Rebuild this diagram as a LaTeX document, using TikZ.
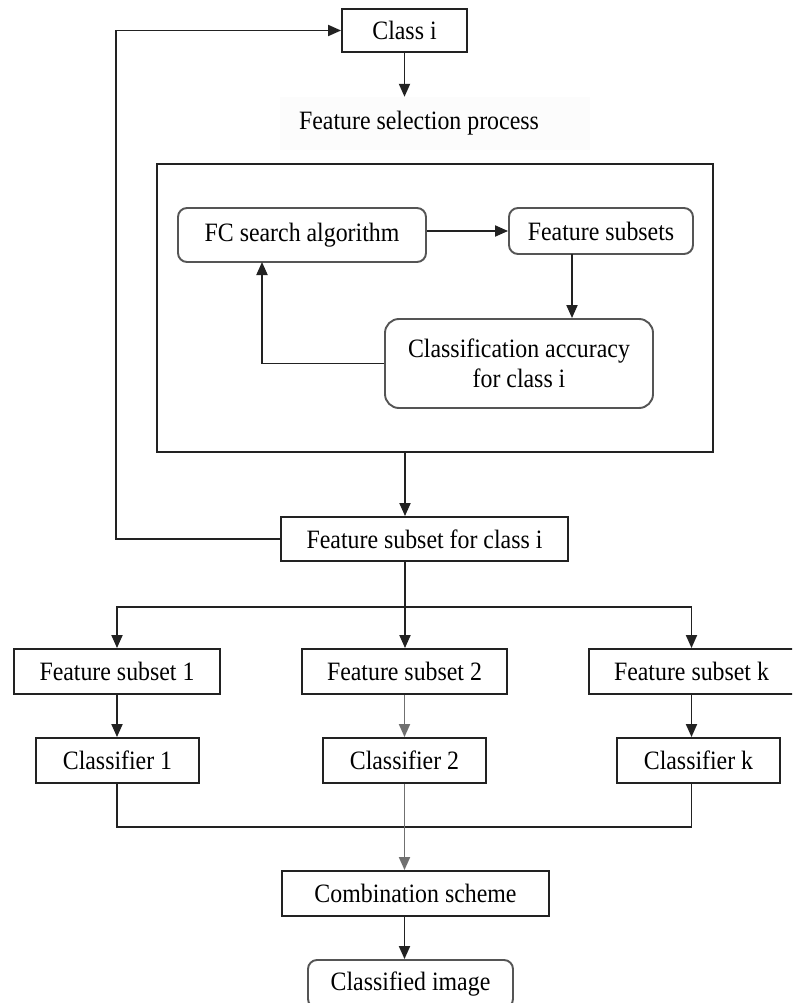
\documentclass[tikz,border=0pt]{standalone}
\usepackage{fontspec}
\setmainfont{Liberation Serif}[FakeStretch=0.9]
\usetikzlibrary{arrows.meta}
\definecolor{ln}{HTML}{222222}
\definecolor{rb}{HTML}{555555}
\definecolor{gl}{HTML}{707070}
\tikzset{
  x=1pt, y=-1pt,
  txt/.style={font=\fontsize{26.5pt}{30pt}\selectfont, text=black},
  sqbox/.style={txt, draw=ln, line width=1.9pt, fill=white, inner sep=0pt, rectangle},
  rdbox/.style={txt, draw=rb, line width=1.9pt, fill=white, inner sep=0pt, rectangle, rounded corners=9pt},
  arr/.style={draw=ln, line width=1.9pt, -{Triangle[length=13pt,width=11pt]}},
  ln/.style={draw=ln, line width=1.9pt},
}
\begin{document}
\begin{tikzpicture}
\useasboundingbox (0,0) rectangle (792,1003);
\fill[white] (0,0) rectangle (792,1003);
\clip (0,0) rectangle (792,1003);

% top
\node[sqbox, minimum width=125pt, minimum height=43pt] (classi) at (404.5,30.5) {Class i};
\node[fill=black!1, minimum width=310pt, minimum height=53pt, inner sep=0pt] (fspbg) at (435,123.5) {};
\node[txt] (fsp) at (419,123) {Feature selection process};

% outer frame
\node[draw=ln, line width=1.9pt, minimum width=556pt, minimum height=288pt, inner sep=0pt, fill=white] (outer) at (435,308) {};

\node[rdbox, minimum width=248pt, minimum height=54pt] (fc) at (302,235) {FC search algorithm};
\node[rdbox, minimum width=184pt, minimum height=46pt] (fs) at (601,231) {Feature subsets};
\node[rdbox, rounded corners=14pt, minimum width=268pt, minimum height=89pt, align=center] (ca) at (519,363.5) {Classification accuracy\\for class i};

\node[sqbox, minimum width=287pt, minimum height=44pt] (fsci) at (424.5,539) {Feature subset for class i};

\node[sqbox, minimum width=206pt, minimum height=45pt] (fs1) at (117,671.5) {Feature subset 1};
\node[sqbox, minimum width=205pt, minimum height=45pt] (fs2) at (404.5,671.5) {Feature subset 2};
\node[sqbox, minimum width=205pt, minimum height=45pt] (fsk) at (691.5,671.5) {Feature subset k};

\node[sqbox, minimum width=163pt, minimum height=45pt] (c1) at (117.5,760.5) {Classifier 1};
\node[sqbox, minimum width=163pt, minimum height=45pt] (c2) at (404.5,760.5) {Classifier 2};
\node[sqbox, minimum width=163pt, minimum height=45pt] (ck) at (698.5,760.5) {Classifier k};

\node[sqbox, minimum width=267pt, minimum height=45pt] (comb) at (415.5,893.5) {Combination scheme};
\node[rdbox, minimum width=205pt, minimum height=48pt] (ci) at (410.5,984) {Classified image};

% coordinates
\coordinate (fbl) at (116,539);
\coordinate (ob) at (405,452);
\coordinate (fsx) at (572,254);
\coordinate (fcx) at (262,262);
\coordinate (br) at (405,607);
\coordinate (jn) at (405,827);

% connectors
\draw[arr] (classi.south) -- (classi.south |- fspbg.north);
\draw[arr] (fsci.west) -- (fbl) |- (classi.west);
\draw[arr] (ob) -- (ob |- fsci.north);
\draw[arr] (fc.east |- fs.west) -- (fs.west);
\draw[arr] (fsx) -- (fsx |- ca.north);
\draw[arr] (ca.west) -| (fcx);

\draw[ln] (fsci.south -| br) -- (br);
\draw[arr] (br) -| (fs1.north);
\draw[arr] (br) -| (fsk.north);
\draw[arr] (br) -- (br |- fs2.north);

\draw[arr] (fs1.south) -- (fs1.south |- c1.north);
\draw[arr, draw=gl] (fs2.south) -- (fs2.south |- c2.north);
\draw[arr] (fsk.south) -- (fsk.south |- ck.north);

\draw[ln] (fs1.south |- c1.south) -- (fs1.south |- jn) -- (fsk.south |- jn) -- (fsk.south |- ck.south);
\draw[arr, draw=gl] (c2.south) -- (c2.south |- comb.north);
\draw[arr] (comb.south -| c2.south) -- (c2.south |- ci.north);
\end{tikzpicture}
\end{document}
